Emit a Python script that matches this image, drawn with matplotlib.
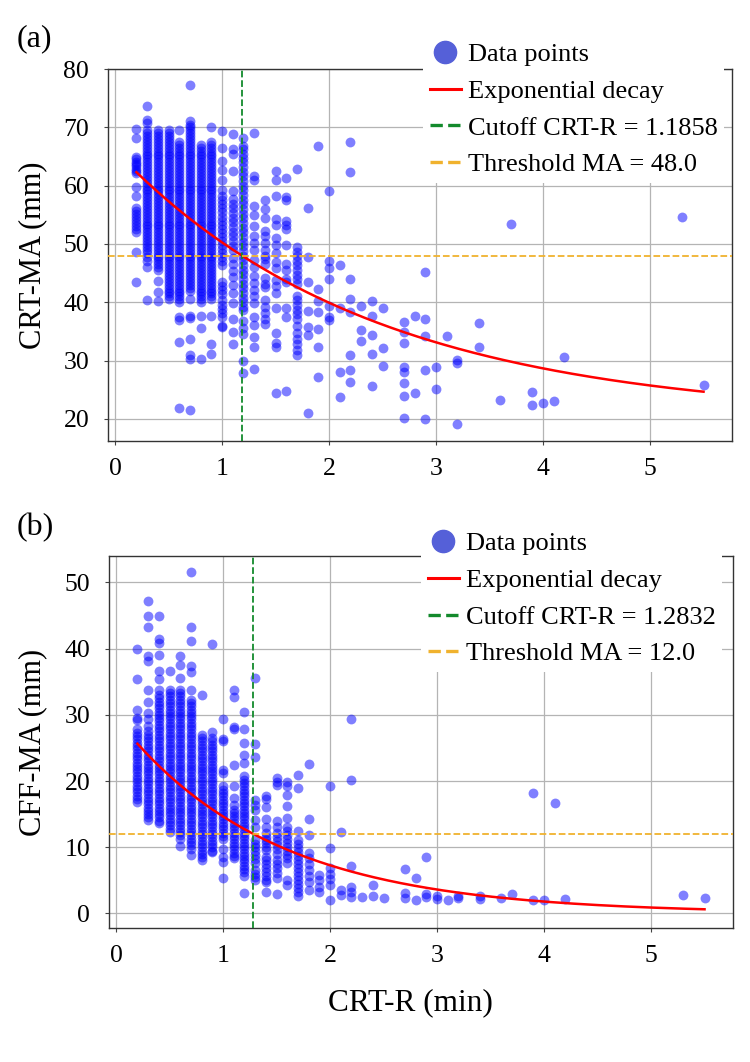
import numpy as np
import matplotlib
matplotlib.use('Agg')
from matplotlib import pyplot as plt
from matplotlib.lines import Line2D

plt.rcParams['font.family'] = ['Liberation Serif', 'DejaVu Serif']

# CRT-R columns (min) and the MA values, panel (a)
a_x = [0.2, 0.3, 0.4, 0.5, 0.6, 0.7, 0.8, 0.9, 1.0, 1.1, 1.2, 1.3, 1.4, 1.5,
       1.6, 1.7, 1.8, 1.9, 2.0, 2.1, 2.2, 2.3, 2.4, 2.5, 2.7, 2.8, 2.9, 3.0,
       3.1, 3.2, 3.4, 3.6, 3.7, 3.9, 4.0, 4.1, 4.2, 5.3, 5.5]
a_y = [
    [69.7, 68.1, 64.9, 64.5, 64.1, 63.7, 63.3, 62.9, 62.5, 62.1, 59.7, 58.2,
     56.1, 55.6, 55.1, 54.6, 54.1, 53.6, 53.1, 52.6, 52.1, 48.7, 43.4],
    [73.6, 71.3, 70.8, 69.5, 69.0, 68.5, 68.0, 67.5, 67.0, 66.5, 66.0, 65.5,
     65.0, 64.5, 64.0, 63.5, 63.0, 62.5, 62.0, 61.5, 61.0, 60.5, 60.0, 59.5,
     59.0, 58.5, 58.0, 57.5, 57.0, 56.5, 56.0, 55.5, 55.0, 54.5, 54.0, 53.5,
     53.0, 52.5, 52.0, 51.5, 51.0, 50.5, 50.0, 49.5, 49.0, 48.4, 47.8, 47.0,
     46.1, 40.3],
    [69.5, 69.0, 68.5, 68.0, 67.5, 67.0, 66.5, 66.0, 65.5, 65.0, 64.5, 64.0,
     63.5, 63.0, 62.5, 62.0, 61.5, 61.0, 60.5, 60.0, 59.5, 59.0, 58.5, 58.0,
     57.5, 57.0, 56.5, 56.0, 55.5, 55.0, 54.5, 54.0, 53.5, 53.0, 52.5, 52.0,
     51.5, 51.0, 50.5, 50.0, 49.5, 49.0, 48.5, 48.0, 47.5, 47.0, 46.5, 46.0,
     45.5, 43.6, 41.8, 40.2],
    [69.5, 69.0, 68.5, 68.0, 67.5, 67.0, 66.5, 66.0, 65.5, 65.0, 64.5, 64.0,
     63.5, 63.0, 62.5, 62.0, 61.5, 61.0, 60.5, 60.0, 59.5, 59.0, 58.5, 58.0,
     57.5, 57.0, 56.5, 56.0, 55.5, 55.0, 54.5, 54.0, 53.5, 53.0, 52.5, 52.0,
     51.5, 51.0, 50.5, 50.0, 49.5, 49.0, 48.5, 48.0, 47.5, 47.0, 46.5, 46.0,
     45.5, 45.0, 44.5, 44.0, 43.5, 43.0, 42.5, 42.0, 41.5, 41.0, 40.5],
    [69.5, 67.5, 67.0, 66.5, 66.0, 65.5, 65.0, 64.5, 64.0, 63.5, 63.0, 62.5,
     62.0, 61.5, 61.0, 60.5, 60.0, 59.5, 59.0, 58.5, 58.0, 57.5, 57.0, 56.5,
     56.0, 55.5, 55.0, 54.5, 54.0, 53.5, 53.0, 52.5, 52.0, 51.5, 51.0, 50.5,
     50.0, 49.5, 49.0, 48.5, 48.0, 47.5, 47.0, 46.5, 46.0, 45.5, 45.0, 44.5,
     44.0, 43.5, 43.0, 42.5, 42.0, 41.5, 41.0, 40.5, 40.0, 37.4, 36.9, 33.2,
     21.8],
    [77.3, 71.0, 70.4, 70.0, 69.5, 69.0, 68.5, 68.0, 67.5, 67.0, 66.5, 66.0,
     65.5, 65.0, 64.5, 64.0, 63.5, 63.0, 62.5, 62.0, 61.5, 61.0, 60.5, 60.0,
     59.5, 59.0, 58.5, 58.0, 57.5, 57.0, 56.5, 56.0, 55.5, 55.0, 54.5, 54.0,
     53.5, 53.0, 52.5, 52.0, 51.5, 51.0, 50.5, 50.0, 49.5, 49.0, 48.5, 48.0,
     47.5, 47.0, 46.5, 46.0, 45.5, 45.0, 44.5, 44.0, 43.5, 43.0, 42.5, 42.0,
     40.5, 37.6, 37.3, 33.7, 30.9, 30.2, 21.5],
    [67.0, 66.5, 66.0, 65.5, 65.0, 64.5, 64.0, 63.5, 63.0, 62.5, 62.0, 61.5,
     61.0, 60.5, 60.0, 59.5, 59.0, 58.5, 58.0, 57.5, 57.0, 56.5, 56.0, 55.5,
     55.0, 54.5, 54.0, 53.5, 53.0, 52.5, 52.0, 51.5, 51.0, 50.5, 50.0, 49.5,
     49.0, 48.5, 48.0, 47.5, 47.0, 46.5, 46.0, 45.5, 45.0, 44.5, 44.0, 43.5,
     43.0, 42.5, 42.0, 41.5, 41.0, 40.5, 40.0, 37.6, 35.5, 30.2],
    [70.0, 67.5, 67.0, 66.5, 66.0, 65.5, 65.0, 64.5, 64.0, 63.5, 63.0, 62.5,
     62.0, 61.5, 61.0, 60.5, 60.0, 59.5, 59.0, 58.5, 58.0, 57.5, 57.0, 56.5,
     56.0, 55.5, 55.0, 54.5, 54.0, 53.5, 53.0, 52.5, 52.0, 51.5, 51.0, 50.5,
     50.0, 49.5, 49.0, 48.5, 48.0, 47.5, 47.0, 46.5, 46.0, 45.5, 45.0, 44.5,
     44.0, 43.5, 43.0, 42.5, 42.0, 41.5, 41.0, 40.5, 37.6, 32.8, 31.1],
    [69.3, 66.4, 64.3, 62.7, 61.0, 59.3, 58.2, 57.5, 56.8, 56.1, 55.4, 54.7,
     54.0, 53.3, 52.6, 51.9, 51.2, 50.5, 49.8, 49.1, 48.4, 47.7, 47.0, 46.4,
     43.4, 42.7, 42.1, 41.4, 40.3, 39.6, 38.9, 38.2, 37.4, 36.0, 35.7],
    [68.8, 66.3, 65.4, 62.5, 59.1, 57.7, 56.9, 56.1, 55.3, 54.5, 53.7, 52.9,
     52.1, 51.3, 50.5, 49.7, 48.9, 47.5, 46.5, 45.4, 44.3, 43.0, 41.5, 39.8,
     37.2, 34.9, 32.9],
    [68.2, 66.8, 66.2, 65.5, 64.8, 64.0, 63.2, 62.4, 61.6, 60.8, 60.0, 59.2,
     58.4, 57.6, 56.8, 56.0, 55.2, 54.4, 53.6, 52.8, 52.0, 51.2, 50.4, 49.6,
     48.8, 48.0, 47.2, 46.4, 45.6, 44.8, 44.0, 43.2, 42.4, 41.6, 40.8, 40.0,
     39.2, 38.6, 36.8, 35.6, 34.5, 30.0, 27.8],
    [69.0, 61.6, 61.0, 56.5, 54.9, 53.1, 51.4, 50.2, 48.9, 47.3, 46.0, 44.5,
     43.3, 42.1, 41.0, 39.9, 37.5, 36.1, 34.1, 32.4, 28.5],
    [57.6, 56.0, 54.4, 52.2, 51.3, 50.2, 49.0, 47.9, 47.4, 46.5, 44.2, 43.1,
     42.6, 40.4, 39.2, 38.1, 37.2, 36.3],
    [62.5, 61.0, 58.2, 54.2, 53.3, 51.1, 49.9, 48.5, 46.9, 45.8, 43.8, 42.7,
     41.5, 39.0, 34.8, 33.0, 32.3, 24.5],
    [61.3, 58.0, 57.5, 54.0, 53.3, 52.5, 49.8, 46.5, 45.5, 44.0, 43.5, 39.0,
     37.5, 24.8],
    [62.8, 49.5, 48.7, 47.9, 47.1, 46.3, 45.5, 44.7, 43.9, 43.1, 41.0, 40.3,
     39.5, 38.7, 37.9, 37.1, 36.0, 34.8, 33.7, 32.8, 31.8, 30.9],
    [56.1, 47.8, 43.5, 38.5, 35.7, 34.4, 21.0],
    [66.8, 42.2, 40.2, 38.4, 35.4, 32.3, 27.2],
    [59.1, 47.0, 45.8, 44.0, 39.3, 37.5, 37.0],
    [46.3, 39.0, 28.1, 23.8],
    [67.5, 62.3, 44.0, 40.6, 38.3, 31.0, 28.4, 26.3],
    [39.3, 35.2, 33.4],
    [40.2, 37.6, 34.4, 31.1, 25.7],
    [39.0, 32.1, 29.0],
    [36.6, 34.9, 33.0, 28.9, 28.1, 26.1, 23.9, 20.1],
    [37.6, 24.5],
    [45.1, 37.1, 34.2, 28.4, 20.0],
    [28.9, 25.1],
    [34.2],
    [30.1, 29.5, 19.1],
    [36.4, 32.4],
    [23.2],
    [53.4],
    [24.6, 22.4],
    [22.7],
    [23.1],
    [30.6],
    [54.6],
    [25.8],
]

# same for panel (b)
b_x = [0.2, 0.3, 0.4, 0.5, 0.6, 0.7, 0.8, 0.9, 1.0, 1.1, 1.2, 1.3, 1.4, 1.5,
       1.6, 1.7, 1.8, 1.9, 2.0, 2.1, 2.2, 2.3, 2.4, 2.5, 2.7, 2.8, 2.9, 3.0,
       3.1, 3.2, 3.4, 3.6, 3.7, 3.9, 4.0, 4.1, 4.2, 5.3, 5.5]
b_y = [
    [39.9, 35.4, 30.8, 29.6, 29.2, 27.8, 27.3, 26.8, 26.3, 25.8, 25.3, 24.8,
     24.3, 23.8, 23.3, 22.8, 22.3, 21.8, 21.3, 20.8, 20.3, 19.8, 19.3, 18.8,
     18.3, 17.8, 17.3, 16.9],
    [47.2, 44.9, 43.3, 38.9, 38.2, 33.7, 32.0, 30.3, 29.3, 28.3, 27.5, 27.0,
     26.5, 26.0, 25.5, 25.0, 24.5, 24.0, 23.5, 23.0, 22.5, 22.0, 21.5, 21.0,
     20.5, 20.0, 19.5, 19.0, 18.5, 18.0, 17.5, 17.0, 16.5, 16.0, 15.5, 15.0,
     14.5, 14.1],
    [44.9, 41.4, 40.8, 39.0, 36.6, 35.4, 33.7, 33.0, 32.5, 32.0, 31.5, 31.0,
     30.5, 30.0, 29.5, 29.0, 28.5, 28.0, 27.5, 27.0, 26.5, 26.0, 25.5, 25.0,
     24.5, 24.0, 23.5, 23.0, 22.5, 22.0, 21.5, 21.0, 20.5, 20.0, 19.5, 19.0,
     18.5, 18.0, 17.5, 17.0, 16.5, 16.0, 15.5, 15.0, 14.5, 14.0, 13.6],
    [36.6, 33.8, 33.3, 32.8, 32.3, 31.8, 31.3, 30.8, 30.3, 29.8, 29.3, 28.8,
     28.3, 27.8, 27.3, 26.8, 26.3, 25.8, 25.3, 24.8, 24.3, 23.8, 23.3, 22.8,
     22.3, 21.8, 21.3, 20.8, 20.3, 19.8, 19.3, 18.8, 18.3, 17.8, 17.3, 16.8,
     16.3, 15.8, 15.3, 14.8, 14.3, 13.8, 13.3, 12.8, 12.3],
    [38.9, 37.6, 35.5, 33.8, 33.3, 32.8, 32.3, 31.8, 31.3, 30.8, 30.3, 29.8,
     29.3, 28.8, 28.3, 27.8, 27.3, 26.8, 26.3, 25.8, 25.3, 24.8, 24.3, 23.8,
     23.3, 22.8, 22.3, 21.8, 21.3, 20.8, 20.3, 19.8, 19.3, 18.8, 18.3, 17.8,
     17.3, 16.8, 16.3, 15.8, 15.3, 14.8, 14.3, 13.8, 13.3, 12.8, 12.3, 11.8,
     11.3, 10.2],
    [51.6, 43.3, 41.2, 37.4, 36.4, 33.8, 32.3, 31.8, 31.3, 30.8, 30.3, 29.8,
     29.3, 28.8, 28.3, 27.8, 27.3, 26.8, 26.3, 25.8, 25.3, 24.8, 24.3, 23.8,
     23.3, 22.8, 22.3, 21.8, 21.3, 20.8, 20.3, 19.8, 19.3, 18.8, 18.3, 17.8,
     17.3, 16.8, 16.3, 15.8, 15.3, 14.8, 14.3, 13.8, 13.3, 12.8, 12.3, 11.8,
     11.3, 10.8, 10.3, 9.8, 8.8],
    [33.0, 27.0, 26.5, 26.0, 25.5, 25.0, 24.5, 24.0, 23.5, 23.0, 22.5, 22.0,
     21.5, 21.0, 20.5, 20.0, 19.5, 19.0, 18.5, 18.0, 17.5, 17.0, 16.5, 16.0,
     15.5, 15.0, 14.5, 14.0, 13.5, 13.0, 12.5, 12.0, 11.5, 11.0, 10.5, 10.0,
     9.5, 9.0, 8.5, 8.0],
    [40.7, 27.4, 26.5, 26.0, 25.5, 25.0, 24.5, 24.0, 23.5, 23.0, 22.5, 22.0,
     21.5, 21.0, 20.5, 20.0, 19.5, 19.0, 18.5, 18.0, 17.5, 17.0, 16.5, 16.0,
     15.5, 15.0, 14.5, 14.0, 13.5, 13.0, 12.5, 12.0, 11.5, 11.0, 10.5, 10.0,
     9.5, 9.3],
    [29.3, 26.3, 26.0, 21.7, 21.2, 19.2, 18.7, 18.2, 17.7, 17.2, 16.7, 16.2,
     15.7, 15.2, 14.7, 14.2, 13.7, 13.2, 12.7, 12.2, 11.7, 11.2, 9.8, 8.6,
     7.8, 5.3],
    [33.7, 32.7, 28.2, 27.8, 22.5, 19.2, 17.4, 16.4, 15.7, 15.2, 14.7, 14.2,
     13.7, 13.2, 12.7, 12.2, 11.7, 11.2, 10.7, 10.2, 9.7, 9.2, 8.7, 8.3],
    [30.4, 27.9, 25.7, 24.0, 22.7, 20.7, 20.2, 19.7, 19.2, 18.7, 18.2, 17.7,
     17.2, 16.7, 16.2, 15.7, 15.2, 14.7, 14.2, 13.7, 13.2, 12.7, 12.2, 11.7,
     11.2, 10.7, 10.2, 9.7, 9.2, 8.7, 8.2, 7.7, 7.2, 6.7, 6.2, 5.6, 3.1],
    [35.6, 25.6, 23.7, 17.2, 16.4, 15.7, 14.1, 13.1, 11.1, 10.5, 10.0, 9.4,
     8.8, 8.2, 7.6, 6.6, 6.0, 5.5, 5.0],
    [17.8, 17.3, 16.1, 14.2, 13.1, 12.1, 11.6, 11.1, 10.6, 10.1, 9.6, 8.6,
     8.0, 7.4, 6.8, 6.2, 5.6, 5.0, 4.7, 3.3],
    [20.4, 19.9, 19.4, 13.9, 13.1, 12.1, 11.5, 10.9, 10.3, 9.7, 9.0, 8.1,
     7.4, 6.8, 6.1, 5.3, 3.0],
    [19.9, 19.2, 17.9, 16.2, 14.4, 13.1, 12.5, 11.9, 11.3, 10.7, 10.1, 9.5,
     8.9, 8.3, 7.6, 5.0, 4.3],
    [20.9, 18.9, 12.4, 11.1, 10.5, 9.9, 9.3, 8.7, 8.1, 7.5, 6.9, 6.3, 5.7,
     5.1, 4.5, 3.9, 3.3, 2.6],
    [22.6, 14.2, 11.9, 9.1, 8.3, 7.4, 6.5, 5.6, 4.7, 3.5],
    [5.8, 5.0, 4.0, 3.3],
    [19.3, 9.9, 6.8, 6.0, 5.2, 4.3, 2.1],
    [12.3, 3.5, 2.8],
    [29.3, 20.1, 7.2, 4.0, 3.3, 2.5],
    [2.5],
    [4.3, 2.6],
    [2.4],
    [6.7, 3.1, 2.3],
    [5.4, 2.0],
    [8.5, 3.0, 2.5],
    [2.7, 2.2],
    [2.0],
    [2.6, 2.3],
    [2.6, 2.2],
    [2.3],
    [2.9],
    [18.2, 2.1],
    [2.1],
    [16.7],
    [2.2],
    [2.8],
    [2.3],
]

# exponential decay fit y = a * exp(-b * x) + c, cutoffs and thresholds
fit_a = (45.9, 0.42, 20.1)
fit_b = (29.5, 0.70, 0.0)
cutoff_a, threshold_a = 1.1858, 48.0
cutoff_b, threshold_b = 1.2832, 12.0

warna_titik = 'blue'
warna_garis_cutoff = '#138a2c'
warna_garis_threshold = '#f0b22e'


# Fungsi untuk menggambar satu panel
def gambar_panel(ax, kolom_x, kolom_y, fit, cutoff, threshold, ylim, yticks,
                 legend_anchor):
    # titik data, satu kolom per nilai CRT-R
    for x, ys in zip(kolom_x, kolom_y):
        ax.scatter([x] * len(ys), ys, s=50, color=warna_titik, alpha=0.5,
                   linewidths=0, zorder=3)

    # kurva exponential decay
    xs = np.linspace(min(kolom_x), max(kolom_x), 300)
    ax.plot(xs, fit[0] * np.exp(-fit[1] * xs) + fit[2], color='red', lw=1.8,
            zorder=4)

    ax.axvline(cutoff, color=warna_garis_cutoff, ls='--', lw=1.3, zorder=4)
    ax.axhline(threshold, color=warna_garis_threshold, ls='--', lw=1.3,
               zorder=4)

    ax.set_xlim(-0.066, 5.766)
    ax.set_ylim(*ylim)
    ax.set_xticks([0, 1, 2, 3, 4, 5])
    ax.set_yticks(yticks)
    ax.grid(True, color='#b4b4b4', lw=0.9)
    ax.set_axisbelow(True)
    ax.tick_params(labelsize=18.5, length=3, width=0.8, color='#444444')
    ax.tick_params(axis='x', pad=9)
    ax.tick_params(axis='y', pad=10.5)
    for spine in ax.spines.values():
        spine.set_color('#333333')
        spine.set_linewidth(1.0)

    handles = [
        Line2D([], [], marker='o', ls='none', markersize=16,
               markerfacecolor='#5560d8', markeredgecolor='#5560d8'),
        Line2D([], [], color='red', lw=2.2),
        Line2D([], [], color=warna_garis_cutoff, ls='--', lw=2.4),
        Line2D([], [], color=warna_garis_threshold, ls='--', lw=2.4),
    ]
    labels = ['Data points', 'Exponential decay',
              f'Cutoff CRT-R = {cutoff:.4f}',
              f'Threshold MA = {threshold:.1f}']
    ax.legend(handles, labels, loc='lower left', bbox_to_anchor=legend_anchor,
              bbox_transform=ax.figure.transFigure, borderaxespad=0,
              frameon=True, fancybox=False, edgecolor='none',
              facecolor='white', framealpha=1, fontsize=19,
              handlelength=1.2, handletextpad=0.25, labelspacing=0.5,
              borderpad=0.25)


fig = plt.figure(figsize=(7.5, 10.62), dpi=100)
W, H = 750, 1062

ax_a = fig.add_axes([108 / W, 1 - 441 / H, 624 / W, 372 / H])
ax_b = fig.add_axes([109 / W, 1 - 928 / H, 624 / W, 372 / H])

gambar_panel(ax_a, a_x, a_y, fit_a, cutoff_a, threshold_a, (16.2, 80.0),
             [20, 30, 40, 50, 60, 70, 80], (423 / W, 1 - 183 / H))
gambar_panel(ax_b, b_x, b_y, fit_b, cutoff_b, threshold_b, (-2.2, 54.0),
             [0, 10, 20, 30, 40, 50], (421 / W, 1 - 672 / H))

# label panel dan sumbu
fig.text(17 / W, 1 - 39 / H, '(a)', fontsize=23, va='center', ha='left')
fig.text(17 / W, 1 - 528 / H, '(b)', fontsize=23, va='center', ha='left')
fig.text(33 / W, 1 - 255 / H, 'CRT-MA (mm)', fontsize=22, rotation=90,
         va='center', ha='center')
fig.text(33 / W, 1 - 742 / H, 'CFF-MA (mm)', fontsize=22, rotation=90,
         va='center', ha='center')
fig.text(410 / W, 1 - 1003 / H, 'CRT-R (min)', fontsize=22.5, va='center',
         ha='center')

fig.savefig('out.png', dpi=100)
